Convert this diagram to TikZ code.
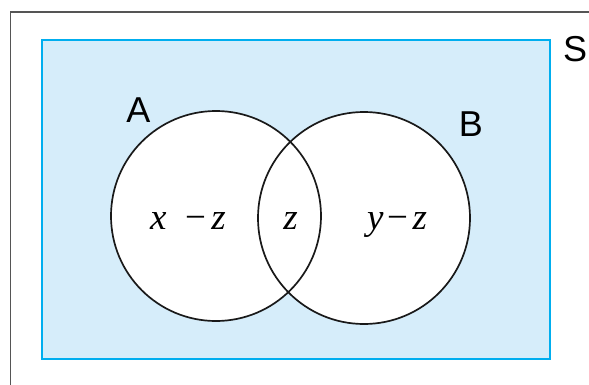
\documentclass[tikz,border=0pt]{standalone}
\usepackage{fontspec}
\setmainfont{Liberation Serif}
\newfontfamily\labsans{Liberation Sans}
\definecolor{frameline}{HTML}{555555}
\definecolor{setblue}{HTML}{00AEEF}
\definecolor{setfill}{HTML}{D6EDFA}
\tikzset{
  setcircle/.style={circle, draw=black!90, line width=1.7pt, inner sep=0pt},
  setlabel/.style={font=\labsans\fontsize{36}{36}\selectfont, inner sep=0pt, anchor=center},
  mathlabel/.style={font=\fontsize{37}{37}\selectfont, inner sep=0pt, anchor=base},
}
\begin{document}
\begin{tikzpicture}[x=1pt,y=-1pt]
\useasboundingbox (0,0) rectangle (589,385);
% outer frame
\coordinate (fb) at (10.5,385);
\coordinate (ftl) at (10.5,12);
\coordinate (ftr) at (589,12);
\draw[frameline, line width=1.8pt] (fb) -- (ftl) -- (ftr);
% universal set
\node[draw=setblue, fill=setfill, line width=1.8pt, minimum width=508pt, minimum height=319pt, inner sep=0pt] (S) at (296,199.5) {};
% circle interiors
\fill[white] (216,216) circle (105);
\fill[white] (364,218) circle (106);
% circles
\node[setcircle, minimum size=210pt] (A) at (216,216) {};
\node[setcircle, minimum size=212pt] (B) at (364,218) {};
% labels
\node[setlabel] (la) at (138.5,110) {A};
\node[setlabel] (lb) at (471,124.5) {B};
\node[setlabel] (ls) at (575,49.5) {S};
\node[mathlabel] (xz) at (188,229) {\textit{x}\hspace{0.5em}−\hspace{0.15em}\textit{z}};
\node[mathlabel] (zz) at (290.5,229) {\textit{z}};
\node[mathlabel] (yz) at (397,229) {\textit{y}\hspace{0.1em}−\hspace{0.12em}\textit{z}};
\end{tikzpicture}
\end{document}
